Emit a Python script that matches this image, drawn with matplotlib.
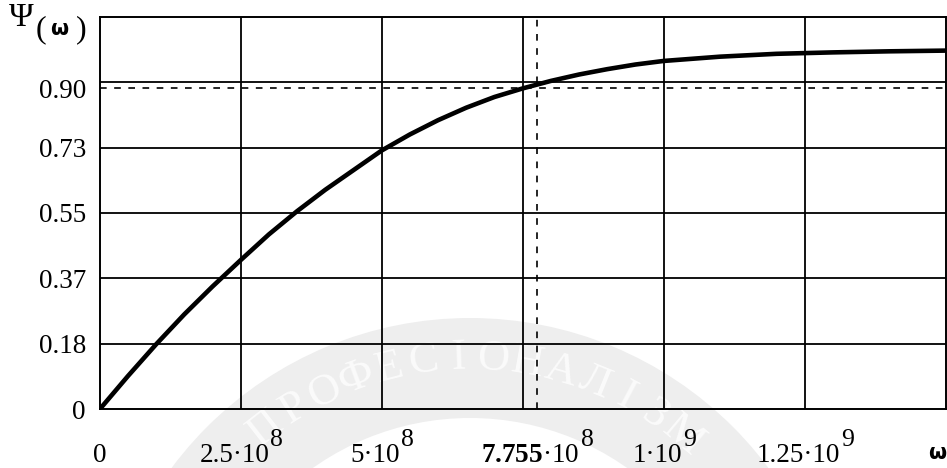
import numpy as np
import matplotlib
matplotlib.use("Agg")
import matplotlib.pyplot as plt
from matplotlib.patches import Wedge
from matplotlib.transforms import IdentityTransform

# curve
omega = [0, 0.5e8, 1.0e8, 1.5e8, 2.0e8, 2.5e8, 3.0e8, 3.5e8, 4.0e8, 4.5e8,
         5.0e8, 5.5e8, 6.0e8, 6.5e8, 7.0e8, 7.5e8, 8.0e8, 8.5e8, 9.0e8, 9.5e8,
         10e8, 11e8, 12e8, 13e8, 14e8, 15e8]
psi = [0, 0.093, 0.182, 0.266, 0.344, 0.418, 0.490, 0.555, 0.615, 0.670,
       0.725, 0.770, 0.810, 0.845, 0.875, 0.899, 0.920, 0.938, 0.953, 0.966,
       0.976, 0.988, 0.996, 1.000, 1.003, 1.005]

x_max = 1.5e9
y_max = 1.1
x_grid = [2.5e8, 5e8, 7.5e8, 1e9, 1.25e9]
y_grid = [y_max * k / 6 for k in range(1, 6)]

x_ticks = [0, 2.5e8, 5e8, 7.755e8, 1e9, 1.25e9]
x_mantissa = ["0", "2.5·10", "5·10", r"$\mathbf{7.755}$·10", "1·10", "1.25·10"]
x_exponent = ["", "8", "8", "8", "9", "9"]
y_ticks = [0, y_max / 6, 2 * y_max / 6, 3 * y_max / 6, 4 * y_max / 6, 0.9]
y_labels = ["0", "0.18", "0.37", "0.55", "0.73", "0.90"]

marker_x = 7.755e8
marker_y = 0.9

watermark = "ПРОФЕСІОНАЛІЗМ"

plt.rcParams.update({
    "font.family": ["Liberation Serif", "DejaVu Serif"],
    "mathtext.fontset": "custom",
    "mathtext.rm": "Liberation Serif",
    "mathtext.bf": "Liberation Serif:bold",
    "mathtext.it": "Liberation Serif:italic",
})

W, H = 947, 468
FS = 19.5
fig = plt.figure(figsize=(W / 100, H / 100), dpi=100)

# faint watermark behind everything, drawn in pixel coordinates
bg = fig.add_axes([0, 0, 1, 1], zorder=-1)
bg.set_xlim(0, W)
bg.set_ylim(H, 0)
bg.axis("off")
cx, cy = 470, 690
bg.add_patch(Wedge((cx, cy), 372, 0, 360, width=100, facecolor="#eeeeee",
                   edgecolor="none"))
angles = np.linspace(-38, 40, len(watermark))
for ch, a in zip(watermark, angles):
    r = 332
    bx = cx + r * np.sin(np.radians(a))
    by = cy - r * np.cos(np.radians(a))
    bg.text(bx, by, ch, fontsize=32, color="#fbfbfb", rotation=-a,
            ha="center", va="center", rotation_mode="anchor")

ax = fig.add_axes([99.7 / W, 1 - 409.3 / H, (945.5 - 99.7) / W, (409.3 - 16.7) / H])
ax.patch.set_visible(False)

for gx in x_grid:
    ax.axvline(gx, color="black", linewidth=1.3, zorder=1)
for gy in y_grid:
    ax.axhline(gy, color="black", linewidth=1.3, zorder=1)
ax.plot(omega, psi, color="black", linewidth=3.3, solid_capstyle="butt", zorder=3)
ax.axvline(marker_x, color="black", linewidth=1.2, dashes=(4, 4.5), zorder=2)
ax.axhline(marker_y, color="black", linewidth=1.2, dashes=(4, 4.5), zorder=2)

ax.set_xlim(0, x_max)
ax.set_ylim(0, y_max)
ax.set_xticks([])
ax.set_yticks(y_ticks)
ax.set_yticklabels(y_labels)
ax.tick_params(which="both", length=0, labelsize=FS)
ax.tick_params(axis="y", pad=10)
for s in ax.spines.values():
    s.set_linewidth(1.4)
    s.set_color("black")

# x tick labels in Mathcad style: mantissa with a full-size raised exponent
renderer = fig.canvas.get_renderer()
base_y = 6
for xv, mant, ex in zip(x_ticks, x_mantissa, x_exponent):
    px = ax.transData.transform((xv, 0))[0]
    tb = fig.text(0, 0, mant, fontsize=FS, ha="left", va="baseline",
                  transform=IdentityTransform())
    te = fig.text(0, 0, ex, fontsize=FS * 0.95, ha="left", va="baseline",
                  transform=IdentityTransform())
    wb = tb.get_window_extent(renderer).width
    we = te.get_window_extent(renderer).width if ex else 0
    left = px - (wb + we) / 2
    tb.set_position((left, base_y))
    te.set_position((left + wb + 1, base_y + 16))

# axis captions
fig.text(9 / W, 1 - 26 / H, "Ψ", fontsize=24, va="baseline", ha="left")
fig.text(36 / W, 1 - 37 / H, "(", fontsize=23, va="baseline", ha="left")
fig.text(50 / W, 1 - 35 / H, "ω", fontsize=15, fontweight="bold",
         family="DejaVu Sans", va="baseline", ha="left")
fig.text(76 / W, 1 - 37 / H, ")", fontsize=23, va="baseline", ha="left")
fig.text(946 / W, 1 - 453 / H, "ω", fontsize=15, fontweight="bold",
         family="DejaVu Sans", va="center", ha="right")

fig.savefig("out.png", dpi=100)
